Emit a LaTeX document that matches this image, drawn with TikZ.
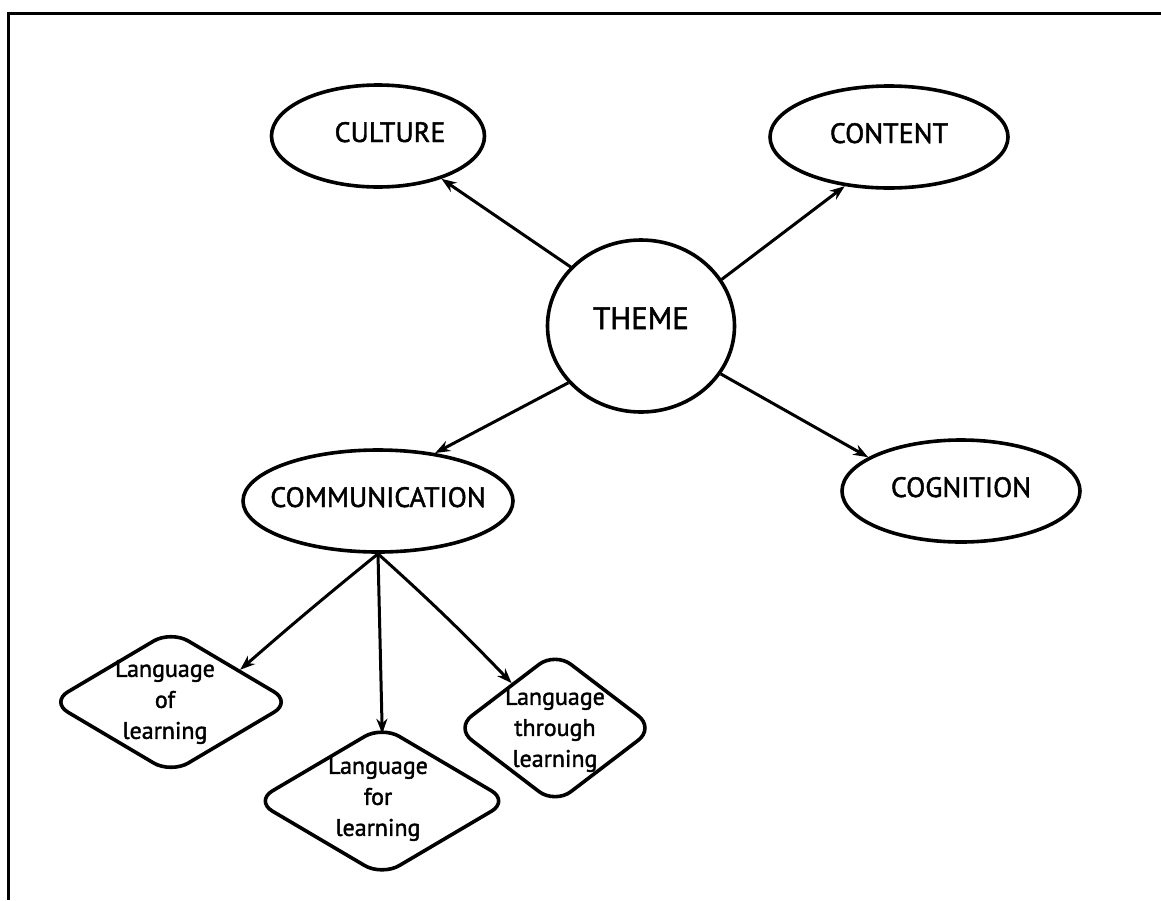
\documentclass[tikz,border=0pt]{standalone}
\usepackage{fontspec}
\setmainfont{PT Sans}
\newfontfamily\hand{PT Sans}[FakeBold=1.6]
\usetikzlibrary{shapes.geometric,arrows.meta}
\newcommand\mytxt[3]{\raisebox{#2}[0pt][0pt]{\makebox[0pt]{\hspace*{#1}#3}}}
\begin{document}
\begin{tikzpicture}[x=1pt,y=-1pt,
  line width=3.6pt,
  oval/.style={ellipse,draw,inner sep=0pt,minimum height=102pt,font=\hand\fontsize{28}{34}\selectfont},
  lang/.style={diamond,draw,inner sep=0pt,rounded corners=20pt},
  langtxt/.style={align=center,font=\hand\fontsize{24}{31}\selectfont,inner sep=0pt},
  conn/.style={-{Stealth[length=15pt,width=11pt]},line width=3pt}]
\useasboundingbox (0,0) rectangle (1161,900);
\draw[line width=3pt] (8,900) -- (8,13) -- (1161,13);

\node[oval,minimum width=213pt] (culture) at (378,136) {\mytxt{24pt}{-6pt}{CULTURE}};
\node[oval,minimum width=238pt] (content) at (889,137) {\mytxt{0pt}{-6pt}{CONTENT}};
\node[ellipse,draw,inner sep=0pt,minimum width=187pt,minimum height=172pt,
      font=\hand\fontsize{31}{36}\selectfont] (theme) at (641,326) {\mytxt{0pt}{-3pt}{THEME}};
\node[oval,minimum width=270pt] (comm) at (378,501) {\mytxt{0pt}{-6pt}{COMMUNICATION}};
\node[oval,minimum width=238pt] (cogn) at (961,491) {\mytxt{0pt}{-6pt}{COGNITION}};

\node[lang,minimum width=242pt,minimum height=144pt,
      label={[name=langoft,langtxt,xshift=-6pt]center:Language\\of\\learning}] (langof) at (171,702) {};
\node[lang,minimum width=255pt,minimum height=151pt,
      label={[name=langfort,langtxt,xshift=-4pt,yshift=2pt]center:Language\\for\\learning}] (langfor) at (382,801) {};
\node[lang,minimum width=200pt,minimum height=153pt,
      label={[name=langthrought,langtxt,yshift=-2pt]center:Language\\through\\learning}] (langthrough) at (555,728) {};

\draw[conn] (theme.140) -- (culture.326);
\draw[conn] (theme.30) -- (content.228);
\draw[conn] (theme.218) -- (comm.40);
\draw[conn] (theme.329) -- (cogn.160);
\draw[conn] (comm.south) to[bend right=1] (langof.25);
\draw[conn,shorten >=-10pt] (comm.south) -- (langfor.north);
\draw[conn] (comm.south) to[bend left=2] (langthrough.134);
\end{tikzpicture}
\end{document}
